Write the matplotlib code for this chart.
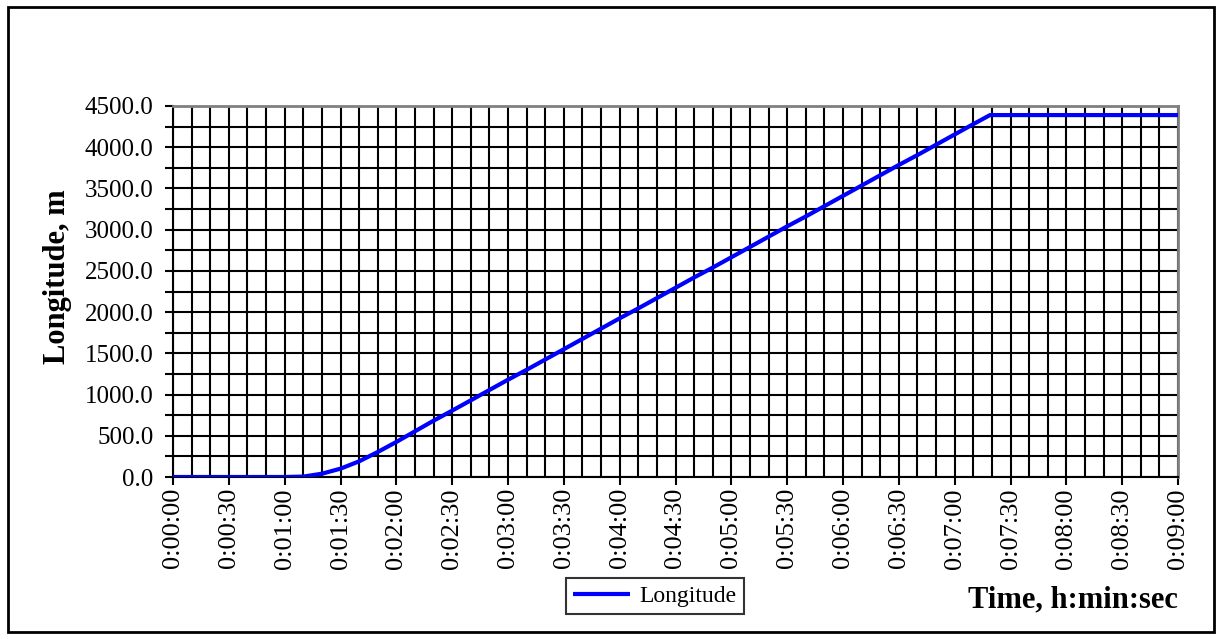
import matplotlib
matplotlib.use("Agg")
import matplotlib.pyplot as plt
from matplotlib.ticker import MultipleLocator, FuncFormatter
from matplotlib.patches import Rectangle

# Time in seconds, longitude in metres
time_s = [0, 10, 20, 30, 40, 50, 60, 70, 80, 90, 100, 110, 120, 130, 140,
          150, 160, 170, 180, 190, 200, 210, 220, 230, 240, 250, 260, 270,
          280, 290, 300, 310, 320, 330, 340, 350, 360, 370, 380, 390, 400,
          410, 420, 430, 439, 450, 480, 510, 540]
longitude_m = [0, 0, 0, 0, 0, 0, 0, 5, 40, 101, 190, 303, 425, 554, 683,
               805, 930, 1055, 1180, 1300, 1425, 1550, 1675, 1800, 1925,
               2045, 2170, 2295, 2420, 2540, 2665, 2790, 2915, 3040, 3160,
               3285, 3410, 3535, 3660, 3785, 3905, 4030, 4155, 4280, 4390,
               4390, 4390, 4390, 4390]
series_name = "Longitude"
x_title = "Time, h:min:sec"
y_title = "Longitude, m"

plt.rcParams['font.family'] = ['Liberation Serif', 'DejaVu Serif']

fig = plt.figure(figsize=(12.17, 6.39), dpi=100)
ax = fig.add_axes([173/1217, 1-477/639, (1178-173)/1217, (477-106)/639])

line, = ax.plot(time_s, longitude_m, color='#0000FF', lw=3, solid_capstyle='butt', zorder=3)

ax.set_xlim(0, 540)
ax.set_ylim(0, 4500)
ax.xaxis.set_major_locator(MultipleLocator(30))
ax.xaxis.set_minor_locator(MultipleLocator(10))
ax.yaxis.set_major_locator(MultipleLocator(500))
ax.yaxis.set_minor_locator(MultipleLocator(250))

def fmt_time(v, pos):
    v = int(round(v))
    return f"{v//3600}:{(v%3600)//60:02d}:{v%60:02d}"
ax.xaxis.set_major_formatter(FuncFormatter(fmt_time))
ax.yaxis.set_major_formatter(FuncFormatter(lambda v, p: f"{v:.1f}"))

ax.grid(which='both', color='black', lw=1.5, zorder=1)
ax.set_axisbelow(True)
ax.tick_params(axis='x', which='major', direction='out', length=6, width=1.5,
               labelsize=19, labelrotation=90, pad=2)
ax.tick_params(axis='x', which='minor', length=0)
ax.tick_params(axis='y', which='both', direction='out', length=6, width=1.5,
               labelsize=18, pad=8)

for s in ['left', 'bottom']:
    ax.spines[s].set_color('black')
    ax.spines[s].set_linewidth(1.5)
for s in ['top', 'right']:
    ax.spines[s].set_color('#808080')
    ax.spines[s].set_linewidth(2)

fig.text(58/1217, 1-277/639, y_title, rotation=90, ha='center', va='center',
         fontsize=22, fontweight='bold')
fig.text(1178/1217, 1-600/639, x_title, ha='right', va='center',
         fontsize=22, fontweight='bold')

leg = fig.legend([line], [series_name], loc='center',
                 bbox_to_anchor=(655/1217, 1-596/639), fontsize=17,
                 frameon=True, fancybox=False, handlelength=2.4,
                 borderpad=0.3, handletextpad=0.4)
leg.get_frame().set_edgecolor('black')
leg.get_frame().set_linewidth(1.5)

fig.patches.append(Rectangle((8/1217, 1-632/639), 1206/1217, 625/639,
                             transform=fig.transFigure, fill=False,
                             edgecolor='black', lw=2))

fig.savefig('out.png', dpi=100)
